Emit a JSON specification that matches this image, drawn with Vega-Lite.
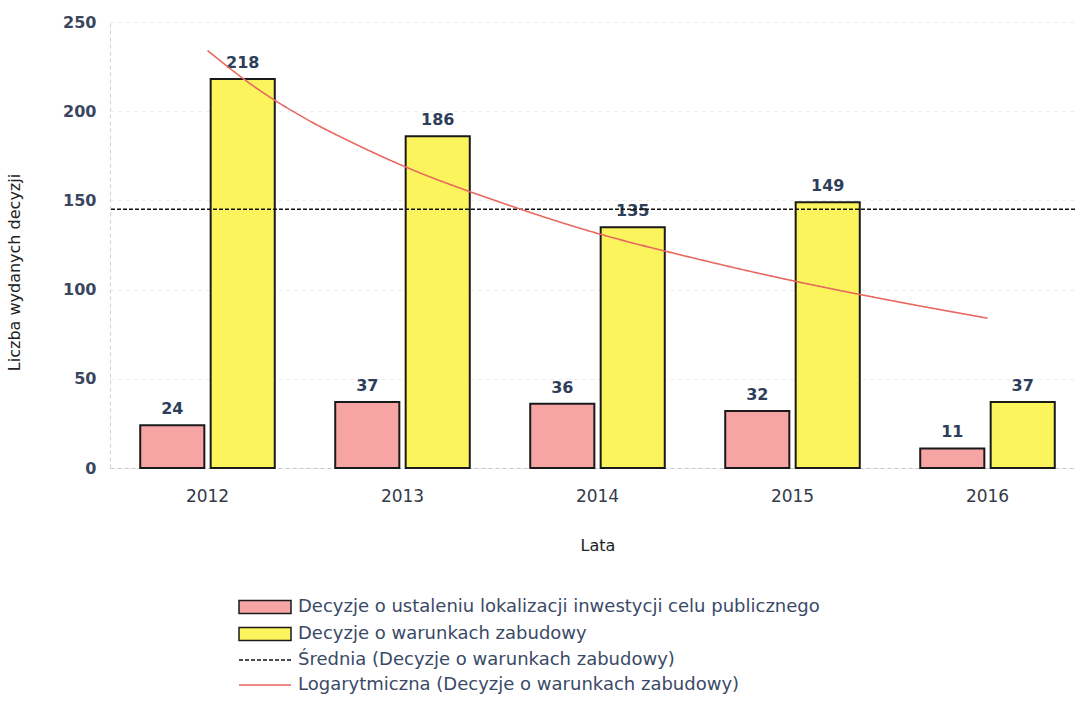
{
  "$schema": "https://vega.github.io/schema/vega-lite/v6.json",
  "autosize": "none",
  "width": 965,
  "height": 446,
  "padding": {"left": 110, "top": 22, "right": 0, "bottom": 242},
  "background": "white",
  "config": {
    "view": {"stroke": null},
    "font": "DejaVu Sans",
    "axis": {"labelFont": "DejaVu Sans", "titleFont": "DejaVu Sans"},
    "legend": {"labelFont": "DejaVu Sans", "labelFontSize": 18, "labelColor": "#3a4a66", "labelLimit": 800, "padding": 0, "rowPadding": 7, "labelOffset": 24, "symbolSize": 169}
  },
  "layer": [
    {
      "data": {
        "values": [
          {"year": "2012", "series": "Decyzje o ustaleniu lokalizacji inwestycji celu publicznego", "value": 24},
          {"year": "2012", "series": "Decyzje o warunkach zabudowy", "value": 218},
          {"year": "2013", "series": "Decyzje o ustaleniu lokalizacji inwestycji celu publicznego", "value": 37},
          {"year": "2013", "series": "Decyzje o warunkach zabudowy", "value": 186},
          {"year": "2014", "series": "Decyzje o ustaleniu lokalizacji inwestycji celu publicznego", "value": 36},
          {"year": "2014", "series": "Decyzje o warunkach zabudowy", "value": 135},
          {"year": "2015", "series": "Decyzje o ustaleniu lokalizacji inwestycji celu publicznego", "value": 32},
          {"year": "2015", "series": "Decyzje o warunkach zabudowy", "value": 149},
          {"year": "2016", "series": "Decyzje o ustaleniu lokalizacji inwestycji celu publicznego", "value": 11},
          {"year": "2016", "series": "Decyzje o warunkach zabudowy", "value": 37}
        ]
      },
      "encoding": {
        "x": {
          "field": "year", "type": "nominal",
          "scale": {"range": [0, 975], "paddingInner": 0.31, "paddingOuter": 0.155},
          "axis": {
            "title": "Lata", "labelAngle": 0, "ticks": false,
            "labelFontSize": 17, "labelColor": "#333a48", "labelPadding": 20,
            "titleFontSize": 16, "titleFontWeight": "normal", "titleColor": "#222", "titlePadding": 33,
            "domainColor": "#c8c8c8", "domainDash": [4, 3], "grid": false
          }
        },
        "xOffset": {
          "field": "series", "type": "nominal",
          "scale": {"domain": ["Decyzje o ustaleniu lokalizacji inwestycji celu publicznego", "Decyzje o warunkach zabudowy"], "paddingInner": 0.09}
        },
        "y": {
          "field": "value", "type": "quantitative",
          "scale": {"domain": [0, 250], "nice": false},
          "axis": {
            "title": "Liczba wydanych decyzji", "values": [0, 50, 100, 150, 200, 250], "ticks": false,
            "labelFontSize": 16, "labelFontWeight": "bold", "labelColor": "#3a4660", "labelPadding": 14,
            "titleFontSize": 16, "titleFontWeight": "normal", "titleColor": "#222", "titleX": -88, "titleY": 250,
            "domainColor": "#d0d0d0", "domainDash": [4, 3],
            "grid": true, "gridColor": "#ececec", "gridDash": [4, 4]
          }
        }
      },
      "layer": [
        {
          "mark": {"type": "bar", "stroke": "#1a1a1a", "strokeWidth": 2},
          "encoding": {
            "fill": {
              "field": "series", "type": "nominal", "title": null,
              "scale": {
                "domain": ["Decyzje o ustaleniu lokalizacji inwestycji celu publicznego", "Decyzje o warunkach zabudowy"],
                "range": ["#f7a4a4", "#fcf45c"]
              },
              "legend": {
                "orient": "none", "legendX": 146, "legendY": 576, "direction": "vertical", "title": null,
                "symbolType": "M-4,-1H4V1H-4Z", "symbolStrokeWidth": 1.5, "symbolStrokeColor": "#1a1a1a"
              }
            }
          }
        },
        {
          "mark": {"type": "text", "baseline": "bottom", "dy": -8, "fontSize": 16, "fontWeight": "bold", "color": "#2e3e5a"},
          "encoding": {"text": {"field": "value", "type": "quantitative"}}
        }
      ]
    },
    {
      "data": {"values": [{"series": "Średnia (Decyzje o warunkach zabudowy)", "value": 145}]},
      "mark": {"type": "rule", "strokeWidth": 1.5},
      "encoding": {
        "y": {"field": "value", "type": "quantitative", "title": "Liczba wydanych decyzji"},
        "stroke": {
          "field": "series", "type": "nominal", "title": null,
          "scale": {
            "domain": ["Średnia (Decyzje o warunkach zabudowy)", "Logarytmiczna (Decyzje o warunkach zabudowy)"],
            "range": ["#111111", "#e8675f"]
          },
          "legend": {
            "orient": "none", "legendX": 146, "legendY": 629, "direction": "vertical", "title": null,
            "symbolType": "M-4,0H4", "symbolStrokeWidth": 1.5
          }
        },
        "strokeDash": {
          "field": "series", "type": "nominal", "title": null,
          "scale": {
            "domain": ["Średnia (Decyzje o warunkach zabudowy)", "Logarytmiczna (Decyzje o warunkach zabudowy)"],
            "range": [[4, 2], [1, 0]]
          },
          "legend": {
            "orient": "none", "legendX": 146, "legendY": 629, "direction": "vertical", "title": null,
            "symbolType": "M-4,0H4", "symbolStrokeWidth": 1.5
          }
        }
      }
    },
    {
      "data": {
        "values": [
          {"t": 2012, "series": "Logarytmiczna (Decyzje o warunkach zabudowy)", "value": 234},
          {"t": 2012.25, "series": "Logarytmiczna (Decyzje o warunkach zabudowy)", "value": 213},
          {"t": 2012.5, "series": "Logarytmiczna (Decyzje o warunkach zabudowy)", "value": 196},
          {"t": 2012.75, "series": "Logarytmiczna (Decyzje o warunkach zabudowy)", "value": 182},
          {"t": 2013, "series": "Logarytmiczna (Decyzje o warunkach zabudowy)", "value": 169.5},
          {"t": 2013.5, "series": "Logarytmiczna (Decyzje o warunkach zabudowy)", "value": 149},
          {"t": 2014, "series": "Logarytmiczna (Decyzje o warunkach zabudowy)", "value": 131.5},
          {"t": 2014.5, "series": "Logarytmiczna (Decyzje o warunkach zabudowy)", "value": 117.5},
          {"t": 2015, "series": "Logarytmiczna (Decyzje o warunkach zabudowy)", "value": 105},
          {"t": 2015.5, "series": "Logarytmiczna (Decyzje o warunkach zabudowy)", "value": 94},
          {"t": 2016, "series": "Logarytmiczna (Decyzje o warunkach zabudowy)", "value": 84}
        ]
      },
      "mark": {"type": "line", "strokeWidth": 1.6, "interpolate": "monotone"},
      "encoding": {
        "x": {"field": "t", "type": "quantitative", "scale": {"domain": [2011.5, 2016.5], "range": [0, 975], "nice": false, "zero": false}, "axis": null},
        "y": {"field": "value", "type": "quantitative", "title": "Liczba wydanych decyzji"},
        "stroke": {"field": "series", "type": "nominal", "title": null},
        "strokeDash": {"field": "series", "type": "nominal", "title": null}
      }
    }
  ],
  "resolve": {"scale": {"x": "independent"}}
}
